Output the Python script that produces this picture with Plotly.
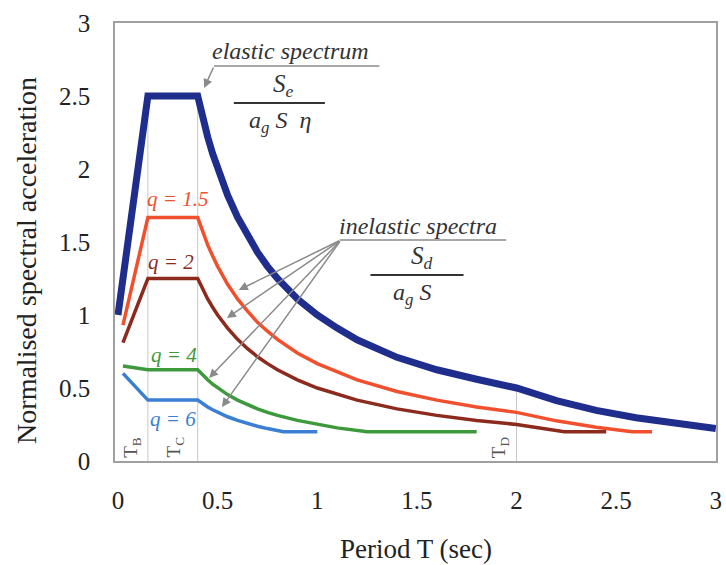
import plotly.graph_objects as go

# ---------------- data ----------------
T_B, T_C, T_D = 0.15, 0.4, 2.0
period_marks = [T_B, T_C, T_D]
period_mark_names = ["T<sub>B</sub>", "T<sub>C</sub>", "T<sub>D</sub>"]
elastic_at_marks = [2.5, 2.5, 0.5]

T_elastic = [0, 0.15, 0.4, 0.425, 0.45, 0.475, 0.5, 0.55, 0.6, 0.65, 0.7, 0.75, 0.8, 0.9,
             1.0, 1.1, 1.2, 1.4, 1.6, 1.8, 2.0, 2.2, 2.4, 2.6, 2.8, 3.0]
S_elastic = [1.0, 2.5, 2.5, 2.35, 2.22, 2.105, 2.0, 1.82, 1.67, 1.54, 1.43, 1.333, 1.25, 1.11,
             1.0, 0.91, 0.83, 0.71, 0.625, 0.56, 0.5, 0.413, 0.347, 0.296, 0.255, 0.222]

T_q15 = [0.025, 0.15, 0.4, 0.425, 0.45, 0.475, 0.5, 0.55, 0.6, 0.65, 0.7, 0.75, 0.8, 0.9,
         1.0, 1.2, 1.4, 1.6, 1.8, 2.0, 2.2, 2.4, 2.58, 2.68]
S_q15 = [0.93, 1.667, 1.667, 1.569, 1.48, 1.404, 1.333, 1.21, 1.11, 1.026, 0.95, 0.889, 0.833,
         0.74, 0.667, 0.556, 0.476, 0.417, 0.37, 0.333, 0.275, 0.231, 0.2, 0.2]

T_q2 = [0.025, 0.15, 0.4, 0.425, 0.45, 0.475, 0.5, 0.55, 0.6, 0.65, 0.7, 0.75, 0.8, 0.9,
        1.0, 1.2, 1.4, 1.6, 1.8, 2.0, 2.1, 2.24, 2.45]
S_q2 = [0.81, 1.25, 1.25, 1.176, 1.11, 1.053, 1.0, 0.91, 0.833, 0.769, 0.714, 0.667, 0.625,
        0.556, 0.5, 0.417, 0.357, 0.3125, 0.278, 0.25, 0.227, 0.2, 0.2]

T_q4 = [0.025, 0.15, 0.4, 0.425, 0.45, 0.475, 0.5, 0.55, 0.6, 0.65, 0.7, 0.75, 0.8, 0.9,
        1.0, 1.1, 1.25, 1.8]
S_q4 = [0.65, 0.625, 0.625, 0.588, 0.556, 0.526, 0.5, 0.455, 0.417, 0.385, 0.357, 0.333,
        0.3125, 0.278, 0.25, 0.227, 0.2, 0.2]

T_q6 = [0.025, 0.15, 0.4, 0.425, 0.45, 0.475, 0.5, 0.55, 0.6, 0.65, 0.7, 0.75, 0.83, 1.0]
S_q6 = [0.60, 0.417, 0.417, 0.392, 0.37, 0.351, 0.333, 0.303, 0.278, 0.256, 0.238, 0.222,
        0.2, 0.2]

x_ticks = [0, 0.5, 1, 1.5, 2, 2.5, 3]
y_ticks = [0, 0.5, 1, 1.5, 2, 2.5, 3]

# ---------------- figure ----------------
W, H = 726, 565
ML, MR, MT, MB = 115, 4, 23, 104
PW, PH = W - ML - MR, H - MT - MB
SERIF = "Liberation Serif"


def px(xp):
    return (xp - ML) / PW


def py(yp):
    return (H - MB - yp) / PH


fig = go.Figure()

for tm, ym in zip(period_marks, elastic_at_marks):
    fig.add_trace(go.Scatter(x=[tm, tm], y=[0, ym], mode="lines",
                             line=dict(color="#c8c8c8", width=1), hoverinfo="skip"))

series = [
    (T_q6, S_q6, "#3a7fd4", 3.5),
    (T_q4, S_q4, "#3c9a3c", 3.5),
    (T_q2, S_q2, "#8c2a1e", 3.5),
    (T_q15, S_q15, "#f0502d", 3.5),
    (T_elastic, S_elastic, "#1f2d8c", 7),
]
for tx, sy, col, w in series:
    fig.add_trace(go.Scatter(x=tx, y=sy, mode="lines",
                             line=dict(color=col, width=w)))


def label(xp, yp, text, size, color="#333333", angle=0):
    return dict(x=px(xp), y=py(yp), xref="paper", yref="paper", text=text,
                xanchor="center", yanchor="middle", textangle=angle, showarrow=False,
                font=dict(family=SERIF, size=size, color=color))


def arrow(tip, start):
    return dict(x=px(tip[0]), y=py(tip[1]), xref="paper", yref="paper", text="",
                showarrow=True, ax=start[0] - tip[0], ay=start[1] - tip[1],
                arrowhead=2, arrowsize=1.2, arrowwidth=1.5,
                arrowcolor="#8a8a8a", standoff=0)


ann = []
for name, xp in zip(period_mark_names, [132, 176, 504]):
    ann.append(label(xp, 447, name, 19, "#555555", -90))

for txt, col, xp, yp in [("q = 1.5", "#f0502d", 178, 199),
                         ("q = 2", "#8c2a1e", 172, 262),
                         ("q = 4", "#3c9a3c", 175, 355),
                         ("q = 6", "#3a7fd4", 174, 419)]:
    ann.append(label(xp, yp, "<i>" + txt + "</i>", 21, col))

ann += [
    label(292, 51, "<i>elastic spectrum</i>", 24),
    label(285, 85, "<i>S<sub>e</sub></i>", 25),
    label(282, 122, "<i>a<sub>g</sub> S  η</i>", 24),
    arrow((205, 88), (215, 66)),
    label(421, 226, "<i>inelastic spectra</i>", 24),
    label(425, 257, "<i>S<sub>d</sub></i>", 25),
    label(415, 294, "<i>a<sub>g</sub> S</i>", 24),
]
for tip in [(240, 290), (228, 318), (210, 378), (223, 407)]:
    ann.append(arrow(tip, (342, 240)))

ann += [
    label(419, 549, "Period T (sec)", 27, "#222222"),
    label(25, 260, "Normalised spectral acceleration", 28, "#222222", -90),
]

shapes = [
    dict(type="line", xref="paper", yref="paper", x0=px(215), x1=px(382), y0=py(66), y1=py(66),
         line=dict(color="#8a8a8a", width=1.5)),
    dict(type="line", xref="paper", yref="paper", x0=px(235), x1=px(327), y0=py(103), y1=py(103),
         line=dict(color="#333333", width=2)),
    dict(type="line", xref="paper", yref="paper", x0=px(342), x1=px(510), y0=py(240), y1=py(240),
         line=dict(color="#8a8a8a", width=1.5)),
    dict(type="line", xref="paper", yref="paper", x0=px(373), x1=px(467), y0=py(275), y1=py(275),
         line=dict(color="#333333", width=2)),
]

fig.update_layout(
    width=W, height=H,
    margin=dict(l=ML, r=MR, t=MT, b=MB),
    plot_bgcolor="white", paper_bgcolor="white",
    showlegend=False,
    annotations=ann, shapes=shapes,
    font=dict(family=SERIF, color="#222222"),
)
fig.update_xaxes(range=[-0.015, 3.001], tickvals=x_ticks, ticktext=[f"{v:g}" for v in x_ticks],
                 showgrid=False, zeroline=False, showline=True, mirror=True,
                 linecolor="#a0a0a0", linewidth=1.5, ticks="",
                 tickfont=dict(family=SERIF, size=25, color="#222222"),
                 ticklabelstandoff=16, ticklabeloverflow="allow")
fig.update_yaxes(range=[0, 3.0], tickvals=y_ticks, ticktext=[f"{v:g}" for v in y_ticks],
                 showgrid=False, zeroline=False, showline=True, mirror=True,
                 linecolor="#a0a0a0", linewidth=1.5, ticks="",
                 tickfont=dict(family=SERIF, size=25, color="#222222"),
                 ticklabelstandoff=18, ticklabeloverflow="allow")

fig.write_html("out.html")
